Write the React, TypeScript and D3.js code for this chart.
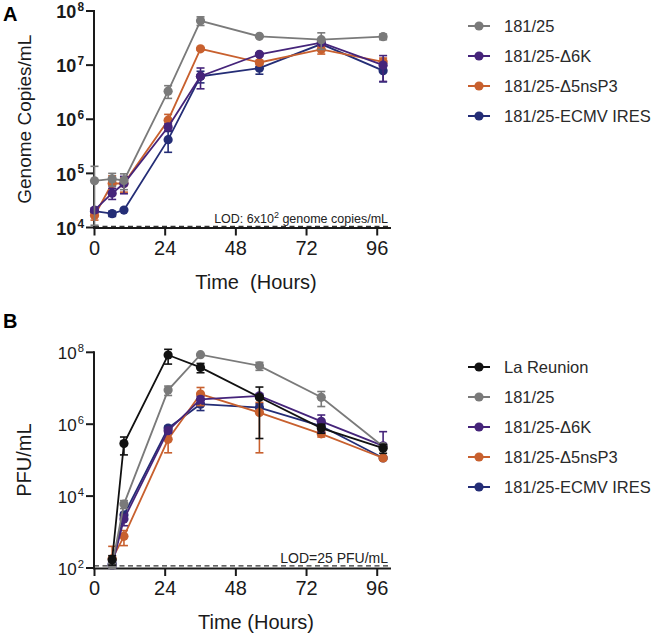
import React from "react";
import * as d3 from "d3";

// ---------- Panel A: genome copies ----------
const timesA = [0, 6, 10, 25, 36, 56, 77, 98];
const namesA = ["181/25", "181/25-\u03946K", "181/25-\u03945nsP3", "181/25-ECMV IRES"];
const gcWT = [7.3e4, 7.9e4, 7.4e4, 3.3e6, 6.6e7, 3.4e7, 2.95e7, 3.35e7];
const gcWTsd = [6.2e4, 2.1e4, 2.4e4, 8.7e5, 1.2e7, 1e6, 1.0e7, 4e6];
const gc6K = [2.1e4, 4.3e4, 6.5e4, 7.2e5, 6.25e6, 1.58e7, 2.6e7, 1.0e7];
const gc6Ksd = [2e3, 1.0e4, 2.3e4, 1e5, 2.6e6, 1e6, 2e6, 5e6];
const gc5ns = [1.67e4, 6.5e4, 6.5e4, 9.6e5, 2.0e7, 1.12e7, 1.95e7, 1.15e7];
const gc5nssd = [3e3, 2.5e4, 2e4, 2.7e5, 1e6, 1e6, 3.5e6, 2e6];
const gcEC = [2.0e4, 1.8e4, 2.1e4, 4.2e5, 6.2e6, 8.8e6, 2.45e7, 7.9e6];
const gcECsd = [1e3, 2e3, 1e3, 1.75e5, 1.5e6, 2e6, 2e6, 3e6];
const yTicksA = [4, 5, 6, 7, 8];
const lodA = 1.05e4;

// ---------- Panel B: PFU ----------
const timesB = [6, 10, 25, 36, 56, 77, 98];
const namesB = ["La Reunion", "181/25", "181/25-\u03946K", "181/25-\u03945nsP3", "181/25-ECMV IRES"];
const pfuLR = [1.7e2, 2.9e5, 8.4e7, 3.8e7, 5.6e6, 7.8e5, 2.15e5];
const pfuLRsd = [5e1, 1.5e5, 3.7e7, 1.1e7, 5.2e6, 2.2e5, 6e4];
const pfuWT = [1.2e2, 6.0e3, 8.9e6, 8.6e7, 4.2e7, 5.6e6, 2.4e5];
const pfuWTsd = [2e1, 1.5e3, 2.6e6, 3e6, 1.05e7, 2.5e6, 3e4];
const pfu6K = [1.2e2, 2.3e3, 6.6e5, 4.9e6, 6.1e6, 1.2e6, 2.5e5];
const pfu6Ksd = [2e1, 8e2, 1e5, 1e6, 1e6, 6e5, 3.7e5];
const pfu5ns = [1.8e2, 7.6e2, 3.8e5, 6.9e6, 2.1e6, 5.4e5, 1.15e5];
const pfu5nssd = [2.2e2, 3.4e2, 2.2e5, 3.6e6, 1.94e6, 1e5, 1.5e4];
const pfuEC = [1.3e2, 3.0e3, 7.8e5, 3.6e6, 2.9e6, 8.9e5, 1.15e5];
const pfuECsd = [3e1, 5e2, 1e5, 1.2e6, 8e5, 2e5, 1e4];
const yTicksB = [2, 4, 6, 8];
const lodB = 115;

const xTicks = [0, 24, 48, 72, 96];

const C_LR = "#111111";
const C_WT = "#7a7a7a";
const C_6K = "#45247a";
const C_5NS = "#c8602e";
const C_EC = "#242d76";

const FONT = "'Liberation Sans', Arial, Helvetica, sans-serif";
const AX = "#1a1a1a";

type Series = { name: string; color: string; t: number[]; v: number[]; sd: number[] };

const seriesA: Series[] = [
  { name: namesA[0], color: C_WT, t: timesA, v: gcWT, sd: gcWTsd },
  { name: namesA[1], color: C_6K, t: timesA, v: gc6K, sd: gc6Ksd },
  { name: namesA[2], color: C_5NS, t: timesA, v: gc5ns, sd: gc5nssd },
  { name: namesA[3], color: C_EC, t: timesA, v: gcEC, sd: gcECsd },
];
const seriesB: Series[] = [
  { name: namesB[0], color: C_LR, t: timesB, v: pfuLR, sd: pfuLRsd },
  { name: namesB[1], color: C_WT, t: timesB, v: pfuWT, sd: pfuWTsd },
  { name: namesB[2], color: C_6K, t: timesB, v: pfu6K, sd: pfu6Ksd },
  { name: namesB[3], color: C_5NS, t: timesB, v: pfu5ns, sd: pfu5nssd },
  { name: namesB[4], color: C_EC, t: timesB, v: pfuEC, sd: pfuECsd },
];
// draw order (bottom -> top)
const orderA = [3, 2, 1, 0];
const orderB = [4, 3, 2, 1, 0];

type PanelProps = {
  series: Series[];
  order: number[];
  yDomain: [number, number];
  yRange: [number, number];
  yTicks: number[];
  boldTicks: boolean;
  tickFont: number;
  yLabel: string;
  yLabelSize: number;
  lod: number;
  lodText: React.ReactNode;
  lodSize: number;
  lodBaseline: number;
  xLabel: string;
  legendY: number;
  panelLabel: string;
  panelLabelY: number;
};

function Panel(p: PanelProps) {
  const x = d3.scaleLinear().domain([0, 100]).range([94.5, 389]);
  const y = d3.scaleLog().domain(p.yDomain).range(p.yRange);
  const yBottom = p.yRange[0];
  const yTop = p.yRange[1];
  const line = d3
    .line<[number, number]>()
    .x((d) => x(d[0]))
    .y((d) => y(d[1]));
  const cap = 4;
  return (
    <g>
      <text x={3} y={p.panelLabelY} fontSize={20} fontWeight="bold" fontFamily={FONT} fill="#000">
        {p.panelLabel}
      </text>
      {/* LOD */}
      <line x1={94} x2={390} y1={y(p.lod)} y2={y(p.lod)} stroke="#333" strokeWidth={1.3} strokeDasharray="5,3.5" />
      <text x={388} y={p.lodBaseline} textAnchor="end" fontSize={p.lodSize} fontFamily={FONT} fill="#222">
        {p.lodText}
      </text>
      {/* axes */}
      <line x1={94} x2={94} y1={yTop - 1} y2={yBottom + 1} stroke={AX} strokeWidth={2} />
      <line x1={93} x2={391} y1={yBottom + 0.5} y2={yBottom + 0.5} stroke={AX} strokeWidth={2} />
      {p.yTicks.map((e) => (
        <g key={"yt" + e}>
          <line x1={86} x2={94} y1={y(Math.pow(10, e))} y2={y(Math.pow(10, e))} stroke={AX} strokeWidth={2} />
          <text
            x={84}
            y={y(Math.pow(10, e)) + p.tickFont * 0.4}
            textAnchor="end"
            fontSize={p.tickFont}
            fontWeight={p.boldTicks ? "bold" : "normal"}
            fontFamily={FONT}
            fill="#1a1a1a"
          >
            10
            <tspan fontSize={p.tickFont * 0.66} dy={-p.tickFont * 0.4} dx={1}>
              {e}
            </tspan>
          </text>
        </g>
      ))}
      {xTicks.map((t) => (
        <g key={"xt" + t}>
          <line x1={x(t)} x2={x(t)} y1={yBottom} y2={yBottom + 8} stroke={AX} strokeWidth={2} />
          <text x={x(t)} y={yBottom + 27} textAnchor="middle" fontSize={20} fontFamily={FONT} fill="#1a1a1a">
            {t}
          </text>
        </g>
      ))}
      <text
        x={256}
        y={yBottom + 61}
        textAnchor="middle"
        fontSize={20}
        fontFamily={FONT}
        fill="#1a1a1a"
        style={{ whiteSpace: "pre" }}
      >
        {p.xLabel}
      </text>
      <text
        transform={`translate(31,${(yTop + yBottom) / 2}) rotate(-90)`}
        textAnchor="middle"
        fontSize={p.yLabelSize}
        fontFamily={FONT}
        fill="#1a1a1a"
      >
        {p.yLabel}
      </text>
      {/* series */}
      {p.order.map((i) => {
        const s = p.series[i];
        const pts: [number, number][] = s.t.map((t, j) => [t, s.v[j]]);
        return (
          <g key={s.name}>
            <path d={line(pts) || ""} fill="none" stroke={s.color} strokeWidth={1.8} />
            {s.t.map((t, j) => {
              const hi = s.v[j] + s.sd[j];
              const lo = s.v[j] - s.sd[j];
              const hasLo = lo > 0;
              const cx = x(t);
              const cy = y(s.v[j]);
              return (
                <g key={j}>
                  <line x1={cx} x2={cx} y1={y(hi)} y2={hasLo ? y(lo) : cy} stroke={s.color} strokeWidth={1.6} />
                  <line x1={cx - cap} x2={cx + cap} y1={y(hi)} y2={y(hi)} stroke={s.color} strokeWidth={1.6} />
                  {hasLo && (
                    <line x1={cx - cap} x2={cx + cap} y1={y(lo)} y2={y(lo)} stroke={s.color} strokeWidth={1.6} />
                  )}
                  <circle cx={cx} cy={cy} r={4.6} fill={s.color} />
                </g>
              );
            })}
          </g>
        );
      })}
      {/* legend */}
      {p.series.map((s, i) => {
        const ly = p.legendY + i * 30;
        return (
          <g key={"lg" + i}>
            <line x1={468} x2={490} y1={ly} y2={ly} stroke={s.color} strokeWidth={2} />
            <circle cx={479} cy={ly} r={4.6} fill={s.color} />
            <text x={504} y={ly + 6} fontSize={16.5} fontFamily={FONT} fill="#2a2a2a">
              {s.name}
            </text>
          </g>
        );
      })}
    </g>
  );
}

export default function App() {
  return (
    <svg
      width={664}
      height={636}
      viewBox="0 0 664 636"
      style={{ position: "absolute", left: 0, top: 0, background: "#fff" }}
    >
      <rect width={664} height={636} fill="#fff" />
      <Panel
        series={seriesA}
        order={orderA}
        yDomain={[1e4, 1e8]}
        yRange={[227.5, 11]}
        yTicks={yTicksA}
        boldTicks={true}
        tickFont={18}
        yLabel="Genome Copies/mL"
        yLabelSize={19}
        lod={lodA}
        lodText={
          <>
            LOD: 6x10
            <tspan fontSize={9} dy={-5}>
              2
            </tspan>
            <tspan dy={5}> genome copies/mL</tspan>
          </>
        }
        lodSize={12.5}
        lodBaseline={223}
        xLabel={"Time  (Hours)"}
        legendY={26}
        panelLabel="A"
        panelLabelY={21}
      />
      <Panel
        series={seriesB}
        order={orderB}
        yDomain={[1e2, 1e8]}
        yRange={[568, 352.3]}
        yTicks={yTicksB}
        boldTicks={false}
        tickFont={17}
        yLabel="PFU/mL"
        yLabelSize={20}
        lod={lodB}
        lodText={"LOD=25 PFU/mL"}
        lodSize={14}
        lodBaseline={562.5}
        xLabel={"Time (Hours)"}
        legendY={367}
        panelLabel="B"
        panelLabelY={328}
      />
    </svg>
  );
}
